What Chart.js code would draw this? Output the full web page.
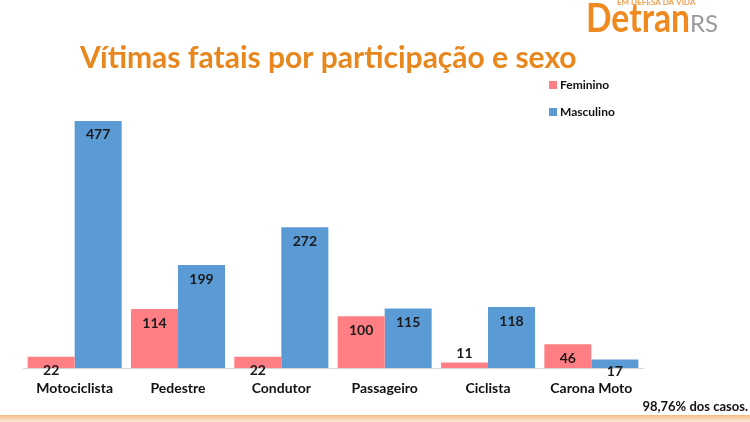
<!DOCTYPE html>
<html><head><meta charset="utf-8">
<script src="https://cdn.jsdelivr.net/npm/chart.js@4/dist/chart.umd.min.js"></script>
<style>html,body{margin:0;padding:0;background:#fff;}#wrap{width:750px;height:422px;position:relative;}</style>
</head><body><div id="wrap"><canvas id="c" width="750" height="422"></canvas></div>
<script>
const categories = ["Motociclista", "Pedestre", "Condutor", "Passageiro", "Ciclista", "Carona Moto"];
const feminino = [22, 114, 22, 100, 11, 46];
const masculino = [477, 199, 272, 115, 118, 17];
const seriesNames = ["Feminino", "Masculino"];
const titleText = "Vítimas fatais por participação e sexo";
const footnote = "98,76% dos casos.";

const ORANGE = "#E8871E";
const FONT = "Lato, 'Open Sans', sans-serif";

const decor = {
  id: "decor",
  beforeDraw(chart) {
    const ctx = chart.ctx;
    ctx.save();
    ctx.fillStyle = "#fff";
    ctx.fillRect(0, 0, chart.width, chart.height);
    const g = ctx.createLinearGradient(0, 414, 0, 422);
    g.addColorStop(0, "rgba(240,170,100,0.9)");
    g.addColorStop(1, "rgba(250,215,180,0.6)");
    ctx.fillStyle = g;
    ctx.fillRect(0, 415, chart.width, 7);
    ctx.restore();
  },
  afterDraw(chart) {
    const ctx = chart.ctx;
    ctx.save();
    ctx.fillStyle = ORANGE;
    ctx.font = "bold 30px " + FONT;
    ctx.textAlign = "left";
    ctx.textBaseline = "middle";
    ctx.fillText(titleText, 80, 58, 518);
    ctx.font = "bold 40px " + FONT;
    ctx.textBaseline = "alphabetic";
    ctx.fillStyle = "#EE8A1F";
    ctx.fillText("Detran", 586, 32, 104);
    ctx.fillStyle = "#9A9A9A";
    ctx.font = "24px " + FONT;
    ctx.fillText("RS", 690, 32);
    ctx.fillStyle = "#F0A050";
    ctx.font = "bold 8px " + FONT;
    ctx.fillText("EM DEFESA DA VIDA", 617, 5, 90);
    const ds = chart.data.datasets;
    const ly = [85, 112];
    ctx.font = "bold 12px " + FONT;
    ctx.textBaseline = "middle";
    ds.forEach((d, i) => {
      ctx.fillStyle = d.backgroundColor;
      ctx.fillRect(549, ly[i] - 4, 8, 8);
      ctx.fillStyle = "#111";
      ctx.fillText(d.label, 560, ly[i]);
    });
    ctx.font = "bold 13px " + FONT;
    ctx.textAlign = "right";
    ctx.fillStyle = "#111";
    ctx.fillText(footnote, 748, 407);
    ctx.textAlign = "center";
    ctx.font = "bold 14px " + FONT;
    ctx.fillStyle = "#1a1a1a";
    chart.data.datasets.forEach((d, di) => {
      const meta = chart.getDatasetMeta(di);
      meta.data.forEach((bar, j) => {
        const h = bar.base - bar.y;
        const y = h < 8 ? bar.y - 9 : bar.y + Math.min(14, h * 0.55 + 7);
        ctx.fillText(String(d.data[j]), bar.x, y);
      });
    });
    ctx.restore();
  }
};

new Chart(document.getElementById("c"), {
  type: "bar",
  data: {
    labels: categories,
    datasets: [
      { label: seriesNames[0], data: feminino, backgroundColor: "#FF7F84" },
      { label: seriesNames[1], data: masculino, backgroundColor: "#5B9BD5" }
    ]
  },
  options: {
    responsive: false,
    animation: false,
    devicePixelRatio: 1,
    layout: { padding: { left: 23, right: 107, top: 109, bottom: 13 } },
    plugins: { legend: { display: false }, title: { display: false }, tooltip: { enabled: false } },
    datasets: { bar: { categoryPercentage: 0.91, barPercentage: 1.0 } },
    scales: {
      x: {
        grid: { display: false, drawTicks: false },
        border: { display: true, color: "#D9D9D9", width: 1 },
        ticks: { color: "#111", font: { family: FONT, size: 14, weight: "bold" }, padding: 12 }
      },
      y: { display: false, min: 0, max: 500 }
    }
  },
  plugins: [decor]
});
</script></body></html>
